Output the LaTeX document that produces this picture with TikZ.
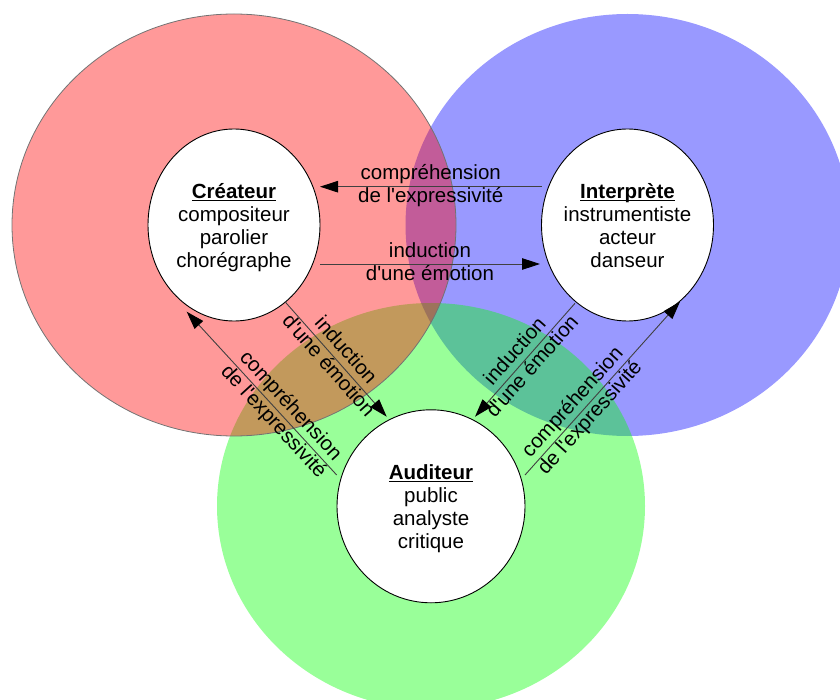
\documentclass[tikz,border=0pt]{standalone}
\usepackage{fontspec}
\setmainfont{Liberation Sans}[Ligatures=TeXOff]
\usetikzlibrary{shapes.geometric,arrows.meta,calc}
\newcommand\myfs{\fontsize{20.5}{23.1}\selectfont}
\newcommand\myul[1]{\setbox0=\hbox{\textbf{#1}}\rlap{\rule[-2.6pt]{\wd0}{1.2pt}}\box0}
\begin{document}
\begin{tikzpicture}[x=1pt,y=-1pt,
  bigc/.style={fill opacity=0.4},
  role/.style={ellipse, draw=black, line width=0.9pt, fill=white, inner sep=0pt},
  roletext/.style={font=\myfs, align=center, inner sep=0pt},
  conn/.style={draw=black!75, line width=0.9pt, -{Triangle[length=18pt,width=11.5pt,color=black]}},
  lab/.style={font=\myfs, align=center, sloped, inner sep=0pt}]
\useasboundingbox (0,0) rectangle (840,700);
\clip (0,0) rectangle (840,700);
\fill[blue, bigc] (627.5,225) ellipse [x radius=222, y radius=211];
\fill[green, bigc] (431,506) ellipse [x radius=214, y radius=203];
\filldraw[red, bigc, draw=black!55, line width=0.8pt] (234,225) ellipse [x radius=222, y radius=211];

\node[role, minimum width=172, minimum height=192] (crea) at (234,225) {};
\node[roletext] (creat) at ($(crea)+(0,3.3)$) {\strut\myul{Créateur}\\\strut compositeur\\\strut parolier\\\strut chorégraphe};
\node[role, minimum width=172, minimum height=192] (interp) at (627.5,225) {};
\node[roletext] (interpt) at ($(interp)+(0,3.3)$) {\strut\myul{Interprète}\\\strut instrumentiste\\\strut acteur\\\strut danseur};
\node[role, minimum width=188, minimum height=193] (audit) at (431,506.3) {};
\node[roletext] (auditt) at ($(audit)+(0,3.3)$) {\strut\myul{Auditeur}\\\strut public\\\strut analyste\\\strut critique};

\draw[conn] ($(interp)+(-86,-38.3)$) -- node[lab]{\strut compréhension\\\strut de l'expressivité} ($(crea)+(86,-38.3)$);
\draw[conn] ($(crea)+(86,39)$) -- node[lab]{\strut induction\\\strut d'une émotion} ($(interp)+(-87.5,39)$);
\draw[conn] ($(crea)+(51,76.7)$) -- node[lab]{\strut induction\\\strut d'une émotion} ($(audit)+(-44.3,-89.6)$);
\draw[conn] ($(audit)+(-94.3,-31.3)$) -- node[lab,pos=0.37]{\strut compréhension\\\strut de l'expressivité} ($(crea)+(-47.3,86.7)$);
\draw[conn] ($(interp)+(-52.5,78.3)$) -- node[lab]{\strut induction\\\strut d'une émotion} ($(audit)+(44,-89.6)$);
\draw[conn] ($(audit)+(94,-31.3)$) -- node[lab,pos=0.37]{\strut compréhension\\\strut de l'expressivité} ($(interp)+(52.5,76.7)$);
\end{tikzpicture}
\end{document}
